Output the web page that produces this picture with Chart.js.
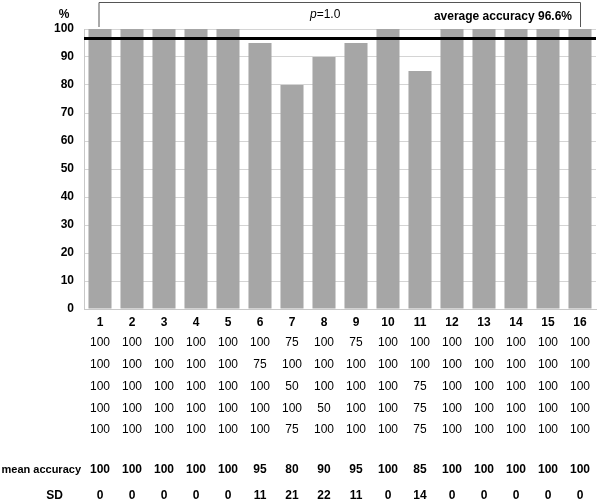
<!DOCTYPE html>
<html>
<head>
<meta charset="utf-8">
<script src="https://cdn.jsdelivr.net/npm/chart.js@4"></script>
<style>
  html, body { margin: 0; padding: 0; background: #fff; }
  #wrap { width: 600px; height: 502px; position: relative; }
</style>
</head>
<body>
<div id="wrap"><canvas id="accChart"></canvas></div>
<script>
// data
const subjects = ['1','2','3','4','5','6','7','8','9','10','11','12','13','14','15','16'];
const trial1 = [100,100,100,100,100,100,75,100,75,100,100,100,100,100,100,100];
const trial2 = [100,100,100,100,100,75,100,100,100,100,100,100,100,100,100,100];
const trial3 = [100,100,100,100,100,100,50,100,100,100,75,100,100,100,100,100];
const trial4 = [100,100,100,100,100,100,100,50,100,100,75,100,100,100,100,100];
const trial5 = [100,100,100,100,100,100,75,100,100,100,75,100,100,100,100,100];
const meanAccuracy = [100,100,100,100,100,95,80,90,95,100,85,100,100,100,100,100];
const sdValues = [0,0,0,0,0,11,21,22,11,0,14,0,0,0,0,0];
const yTicks = [0,10,20,30,40,50,60,70,80,90,100];
const averageAccuracy = 96.6;
const pValue = '1.0';

const FONT = '"Liberation Sans", Arial, sans-serif';

// draws the average line, the bracket on top and the table underneath
const extras = {
    id: 'extras',
    afterDatasetsDraw(chart) {
        const { ctx, chartArea, scales: { x, y } } = chart;
        ctx.save();

        // average accuracy line
        const yAvg = y.getPixelForValue(averageAccuracy);
        ctx.strokeStyle = '#000';
        ctx.lineWidth = 3;
        ctx.beginPath();
        ctx.moveTo(chartArea.left, yAvg);
        ctx.lineTo(chartArea.right, yAvg);
        ctx.stroke();

        // bracket
        const xl = x.getPixelForValue(0) - 1.5;
        const xr = x.getPixelForValue(subjects.length - 1);
        ctx.strokeStyle = '#555';
        ctx.lineWidth = 1;
        ctx.beginPath();
        ctx.moveTo(xl + 0.5, chartArea.top - 2);
        ctx.lineTo(xl + 0.5, 2.5);
        ctx.lineTo(xr + 0.5, 2.5);
        ctx.lineTo(xr + 0.5, chartArea.top - 2);
        ctx.stroke();

        ctx.fillStyle = '#000';
        ctx.textBaseline = 'middle';
        ctx.textAlign = 'left';
        ctx.font = 'italic 12px ' + FONT;
        ctx.fillText('p', 310, 15);
        const pw = ctx.measureText('p').width;
        ctx.font = '12px ' + FONT;
        ctx.fillText('=' + pValue, 310 + pw, 15);

        ctx.font = 'bold 12px ' + FONT;
        ctx.textAlign = 'right';
        ctx.fillText('average accuracy ' + averageAccuracy + '%', 572, 16.5);

        // "%" above the y axis
        ctx.textAlign = 'center';
        ctx.fillText('%', 64, 15);

        // table rows
        const rows = [trial1, trial2, trial3, trial4, trial5];
        const rowY = [343, 365, 387, 409, 430];
        ctx.font = '12px ' + FONT;
        rows.forEach((row, r) => {
            row.forEach((v, i) => {
                ctx.fillText(String(v), x.getPixelForValue(i), rowY[r]);
            });
        });

        ctx.font = 'bold 12px ' + FONT;
        meanAccuracy.forEach((v, i) => ctx.fillText(String(v), x.getPixelForValue(i), 470));
        sdValues.forEach((v, i) => ctx.fillText(String(v), x.getPixelForValue(i), 496));

        ctx.textAlign = 'right';
        ctx.fillText('SD', 63, 496);
        ctx.font = 'bold 11px ' + FONT;
        ctx.fillText('mean accuracy', 81, 470);

        ctx.restore();
    }
};

new Chart(document.getElementById('accChart'), {
    type: 'bar',
    data: {
        labels: subjects,
        datasets: [{
            data: meanAccuracy,
            backgroundColor: '#a6a6a6',
            borderWidth: 0,
            categoryPercentage: 1.0,
            barPercentage: 0.72
        }]
    },
    options: {
        responsive: true,
        maintainAspectRatio: false,
        animation: false,
        layout: { padding: { top: 29, right: 4, left: 0, bottom: 0 } },
        plugins: {
            legend: { display: false },
            tooltip: { enabled: false }
        },
        scales: {
            x: {
                grid: { display: false, drawTicks: false },
                border: { color: '#c8c8c8' },
                ticks: {
                    color: '#000',
                    padding: 6,
                    font: { family: FONT, size: 12, weight: 'bold' },
                    maxRotation: 0
                },
                afterFit: (s) => { s.height = 193; }
            },
            y: {
                min: 0,
                max: 100,
                afterBuildTicks: (s) => { s.ticks = yTicks.map(v => ({ value: v })); },
                grid: { color: '#d4d4d4', drawTicks: false },
                border: { color: '#c8c8c8' },
                ticks: {
                    color: '#000',
                    padding: 10,
                    font: { family: FONT, size: 12, weight: 'bold' }
                },
                afterFit: (s) => { s.width = 84; }
            }
        }
    },
    plugins: [extras]
});
</script>
</body>
</html>
